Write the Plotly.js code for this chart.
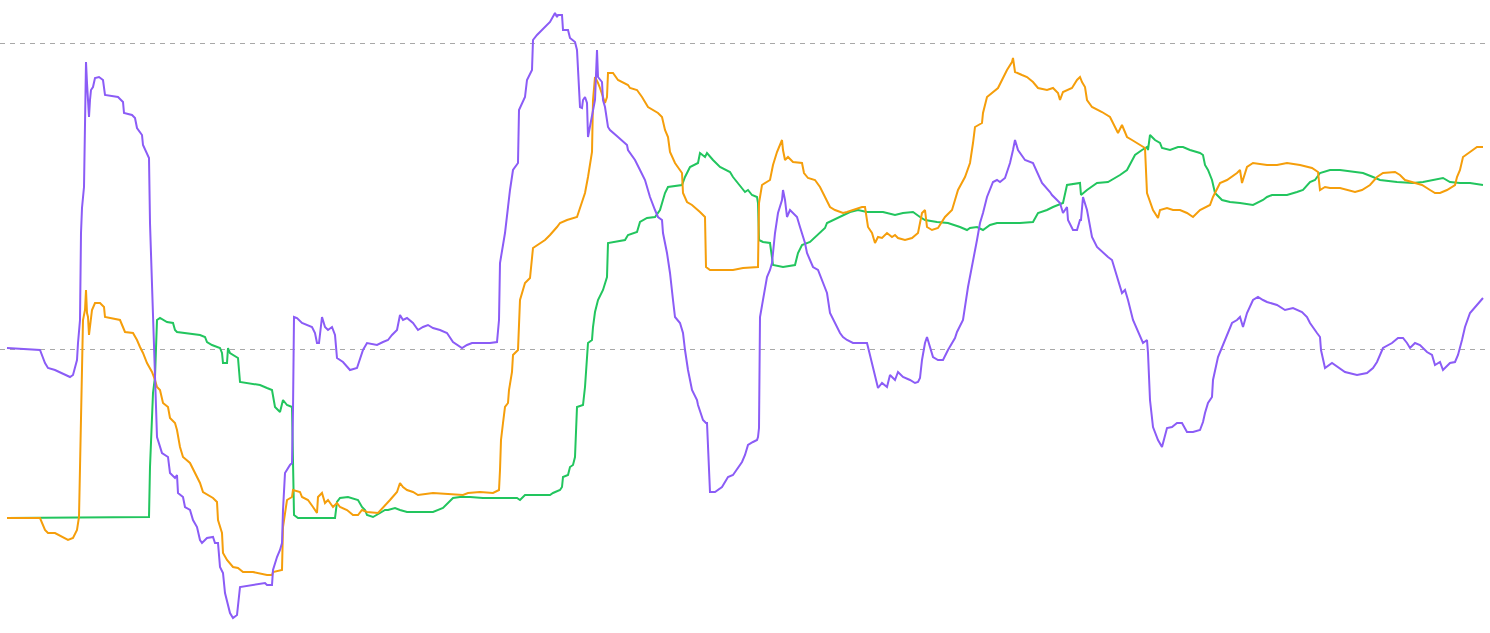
<!DOCTYPE html>
<html>
<head>
<meta charset="utf-8">
<script src="https://cdn.plot.ly/plotly-3.0.1.min.js"></script>
<style>html,body{margin:0;padding:0;background:#fff;}#chart{width:1490px;height:633px;}</style>
</head>
<body>
<div id="chart"></div>
<script>
// Values (index on x, indicator value on y)
const purpleX = [7,40,45,48,55,62,70,73,77,78,80,81,82,84,85,86,87,89,90,91,93,95,99,103,105,118,123,124,132,135,137,142,143,147,149,150,152,153,157,162,168,170,175,177,178,183,185,190,193,197,200,202,207,213,215,218,220,223,225,230,233,237,240,253,265,267,272,273,277,280,282,283,285,290,292,293,294,297,302,312,315,317,319,322,325,328,332,335,337,343,348,350,357,360,363,367,377,383,388,392,397,400,403,407,413,418,423,428,433,440,447,453,462,467,472,480,490,497,499,500,505,510,513,518,519,525,527,532,533,537,542,550,555,557,558,562,563,568,570,575,577,580,582,583,585,587,588,592,593,595,597,598,602,603,605,608,610,615,618,627,628,635,638,640,645,650,655,658,662,663,667,670,673,675,680,683,685,688,692,697,698,703,706,707,710,715,722,728,733,738,742,745,748,753,757,758,759,760,767,770,772,775,778,782,783,785,787,790,793,797,800,805,807,813,818,823,827,830,835,840,843,847,853,863,867,868,873,875,878,882,887,890,895,898,903,910,915,918,920,922,925,927,933,938,943,948,955,957,963,968,972,977,980,983,987,993,997,1000,1005,1010,1013,1015,1018,1025,1033,1037,1042,1050,1052,1057,1060,1063,1067,1068,1073,1077,1080,1081,1083,1087,1092,1097,1103,1108,1112,1115,1118,1122,1125,1128,1133,1137,1140,1143,1147,1148,1150,1153,1158,1162,1167,1172,1177,1182,1187,1193,1200,1203,1205,1208,1212,1213,1218,1222,1228,1232,1237,1240,1243,1247,1253,1258,1263,1267,1277,1285,1293,1302,1307,1310,1317,1320,1321,1325,1332,1345,1357,1367,1373,1377,1383,1392,1398,1403,1407,1410,1415,1420,1427,1432,1435,1440,1443,1450,1455,1458,1462,1465,1470,1477,1480,1483];
const purpleY = [1,-1,-14,-19,-21,-24,-28,-26,-11,6,29,116,141,162,261,287,266,232,249,259,262,271,272,269,254,252,247,236,234,231,221,214,204,196,191,126,72,34,-88,-104,-108,-124,-129,-126,-144,-148,-158,-161,-171,-178,-191,-194,-189,-188,-194,-194,-218,-224,-244,-264,-269,-266,-238,-236,-234,-236,-236,-221,-208,-201,-194,-161,-124,-116,-114,-61,32,31,26,22,16,6,6,32,22,19,22,14,-9,-13,-18,-21,-19,-11,-1,6,4,7,9,14,19,34,29,31,26,19,22,24,21,19,16,7,1,4,6,6,6,7,29,86,116,159,179,186,239,252,269,279,309,314,319,327,336,332,334,334,319,319,311,307,299,242,241,249,252,246,212,232,237,249,299,272,267,249,242,222,219,214,212,204,199,189,182,179,169,152,139,132,129,116,96,76,49,32,26,16,-1,-21,-41,-51,-56,-71,-74,-74,-143,-143,-138,-128,-126,-119,-113,-106,-96,-93,-91,-88,-79,32,72,79,86,116,136,149,159,149,132,139,136,132,122,106,96,82,79,66,56,36,26,16,12,9,6,6,6,2,-18,-28,-39,-34,-38,-26,-31,-23,-28,-31,-34,-33,-29,-11,6,12,-8,-11,-11,-1,11,17,29,62,82,109,126,136,152,167,169,167,171,186,199,209,199,189,186,177,166,157,154,149,146,136,142,129,119,119,129,129,152,139,112,102,96,92,89,79,69,56,59,49,29,19,12,6,9,-4,-51,-78,-91,-98,-79,-78,-74,-74,-83,-83,-81,-73,-64,-54,-48,-31,-8,2,16,26,29,32,22,36,49,52,49,47,44,39,41,37,32,26,16,12,-1,-19,-14,-23,-26,-24,-19,-13,1,6,11,11,6,1,6,4,-3,-6,-16,-13,-21,-14,-13,-6,9,22,36,44,47,51,49];

const orangeX = [7,40,45,48,55,62,68,73,77,79,81,83,85,86,87,88,89,92,95,100,104,105,120,125,133,137,140,143,147,152,155,157,160,163,168,170,175,177,180,183,190,195,200,203,208,213,217,218,222,223,227,233,238,243,253,267,272,273,282,283,287,292,293,300,302,308,313,317,318,322,325,328,333,337,340,347,353,358,362,367,378,383,390,397,400,403,407,413,418,433,457,463,468,480,493,498,499,500,501,503,505,508,509,512,513,518,519,520,525,530,533,538,545,550,555,557,560,567,577,582,585,588,592,593,595,598,600,605,607,608,613,618,628,630,637,642,648,658,662,665,668,670,675,682,683,687,692,700,705,706,710,733,743,758,759,762,770,773,777,782,783,785,788,793,802,804,808,815,820,825,830,835,843,847,853,862,865,868,872,875,878,882,887,892,895,898,905,912,918,921,922,925,927,932,938,945,952,955,958,965,970,973,975,982,983,987,993,998,1007,1012,1013,1015,1022,1027,1033,1038,1047,1053,1058,1060,1063,1072,1077,1080,1082,1085,1087,1092,1102,1110,1113,1118,1122,1127,1132,1140,1145,1147,1153,1158,1160,1167,1173,1180,1187,1193,1200,1210,1213,1220,1227,1237,1240,1242,1245,1247,1253,1267,1277,1287,1300,1312,1318,1320,1325,1330,1340,1348,1355,1362,1370,1377,1383,1395,1400,1405,1413,1422,1430,1435,1440,1447,1455,1457,1460,1463,1470,1477,1483];
const orangeY = [-169,-169,-181,-184,-184,-188,-191,-189,-181,-168,-78,29,39,59,36,32,14,39,46,46,42,32,29,17,16,9,2,-4,-14,-23,-31,-38,-41,-54,-58,-69,-74,-81,-98,-108,-114,-124,-134,-143,-146,-149,-153,-171,-184,-204,-211,-218,-219,-223,-223,-226,-226,-223,-221,-178,-151,-148,-141,-143,-148,-151,-158,-164,-148,-144,-154,-151,-158,-154,-158,-161,-166,-166,-161,-163,-164,-159,-151,-143,-134,-138,-141,-143,-146,-144,-146,-146,-144,-143,-144,-141,-141,-121,-91,-74,-58,-54,-41,-23,-6,-1,36,49,66,71,101,104,109,114,119,122,126,129,132,146,156,172,197,249,272,266,261,246,252,276,276,269,264,261,259,252,242,236,232,219,212,197,186,176,156,147,144,137,132,82,79,79,81,82,146,164,169,184,197,209,199,189,192,187,186,176,171,169,162,152,142,139,136,137,139,142,142,122,116,106,112,111,116,112,114,111,109,111,116,129,136,139,122,119,121,132,139,149,159,172,186,206,222,226,236,252,257,261,279,287,291,277,274,272,267,261,259,261,256,249,257,261,269,272,267,262,249,242,237,232,226,216,224,212,209,204,201,156,139,131,139,141,139,139,136,132,139,144,152,166,169,176,179,166,176,182,186,184,184,186,184,181,177,159,162,161,161,159,157,159,164,172,176,177,174,169,167,164,159,156,156,159,164,172,179,192,197,202,202];

const greenX = [7,147,149,150,152,153,155,157,160,167,173,175,177,200,205,207,212,220,222,223,227,228,230,238,240,247,260,267,272,275,280,283,287,292,293,294,298,323,335,337,340,348,358,362,365,367,373,380,385,388,395,400,407,417,427,433,443,448,453,460,470,483,500,517,520,525,533,550,553,560,562,563,568,570,573,575,577,583,585,587,588,592,593,595,598,603,607,608,613,625,628,637,640,647,655,660,665,668,682,685,690,698,700,705,707,713,720,730,733,738,745,748,752,757,758,759,763,770,773,783,795,798,802,810,815,820,825,827,833,843,850,858,867,883,895,903,913,920,925,937,948,960,967,970,977,983,990,997,1010,1020,1033,1038,1047,1053,1063,1067,1080,1081,1087,1097,1108,1120,1127,1135,1142,1147,1148,1150,1153,1155,1160,1162,1170,1178,1183,1190,1200,1203,1205,1208,1212,1215,1222,1230,1240,1253,1263,1267,1272,1287,1297,1303,1310,1315,1320,1330,1340,1353,1363,1373,1380,1397,1407,1413,1423,1433,1443,1450,1460,1470,1483];
const greenY = [-169,-168,-168,-118,-78,-44,-28,29,31,27,26,19,17,14,12,7,4,1,-4,-14,-14,1,-4,-9,-33,-34,-36,-39,-41,-58,-63,-51,-56,-58,-141,-166,-169,-169,-169,-153,-149,-148,-151,-158,-161,-166,-168,-164,-161,-161,-159,-161,-163,-163,-163,-163,-159,-154,-149,-148,-148,-149,-149,-149,-151,-146,-146,-146,-144,-141,-138,-128,-126,-118,-116,-108,-58,-56,-38,-4,6,9,22,37,49,59,72,106,107,109,114,117,127,131,132,139,156,162,164,172,182,186,196,192,196,189,182,177,172,166,157,159,154,152,146,109,107,106,84,82,84,96,104,107,112,117,121,126,129,134,137,139,137,137,134,136,137,132,129,127,126,122,119,121,122,119,124,126,126,126,127,136,139,142,146,164,166,154,159,166,167,174,179,194,199,202,199,214,211,209,206,201,199,202,202,199,196,194,184,179,169,156,149,147,146,144,149,152,154,154,157,159,167,169,176,179,179,177,176,172,169,167,166,166,167,169,171,167,166,166,164];

const gridValues = [0, 306];

const traces = [
  {x: greenX, y: greenY, type: 'scatter', mode: 'lines', line: {color: '#22c55e', width: 2}, hoverinfo: 'skip'},
  {x: orangeX, y: orangeY, type: 'scatter', mode: 'lines', line: {color: '#f59e0b', width: 2}, hoverinfo: 'skip'},
  {x: purpleX, y: purpleY, type: 'scatter', mode: 'lines', line: {color: '#8b5cf6', width: 2}, hoverinfo: 'skip'}
];

const layout = {
  width: 1490, height: 633,
  margin: {l: 0, r: 0, t: 0, b: 0, pad: 0},
  paper_bgcolor: '#ffffff', plot_bgcolor: '#ffffff',
  showlegend: false,
  xaxis: {range: [0, 1490], showgrid: false, zeroline: false, showticklabels: false, showline: false, ticks: ''},
  yaxis: {range: [-284, 349], tickmode: 'array', tickvals: gridValues, showgrid: true, gridcolor: '#a8a8a8', gridwidth: 1, griddash: '5px,5px', zeroline: false, showticklabels: false, showline: false, ticks: ''}
};

Plotly.newPlot('chart', traces, layout, {staticPlot: true, displayModeBar: false});
</script>
</body>
</html>
